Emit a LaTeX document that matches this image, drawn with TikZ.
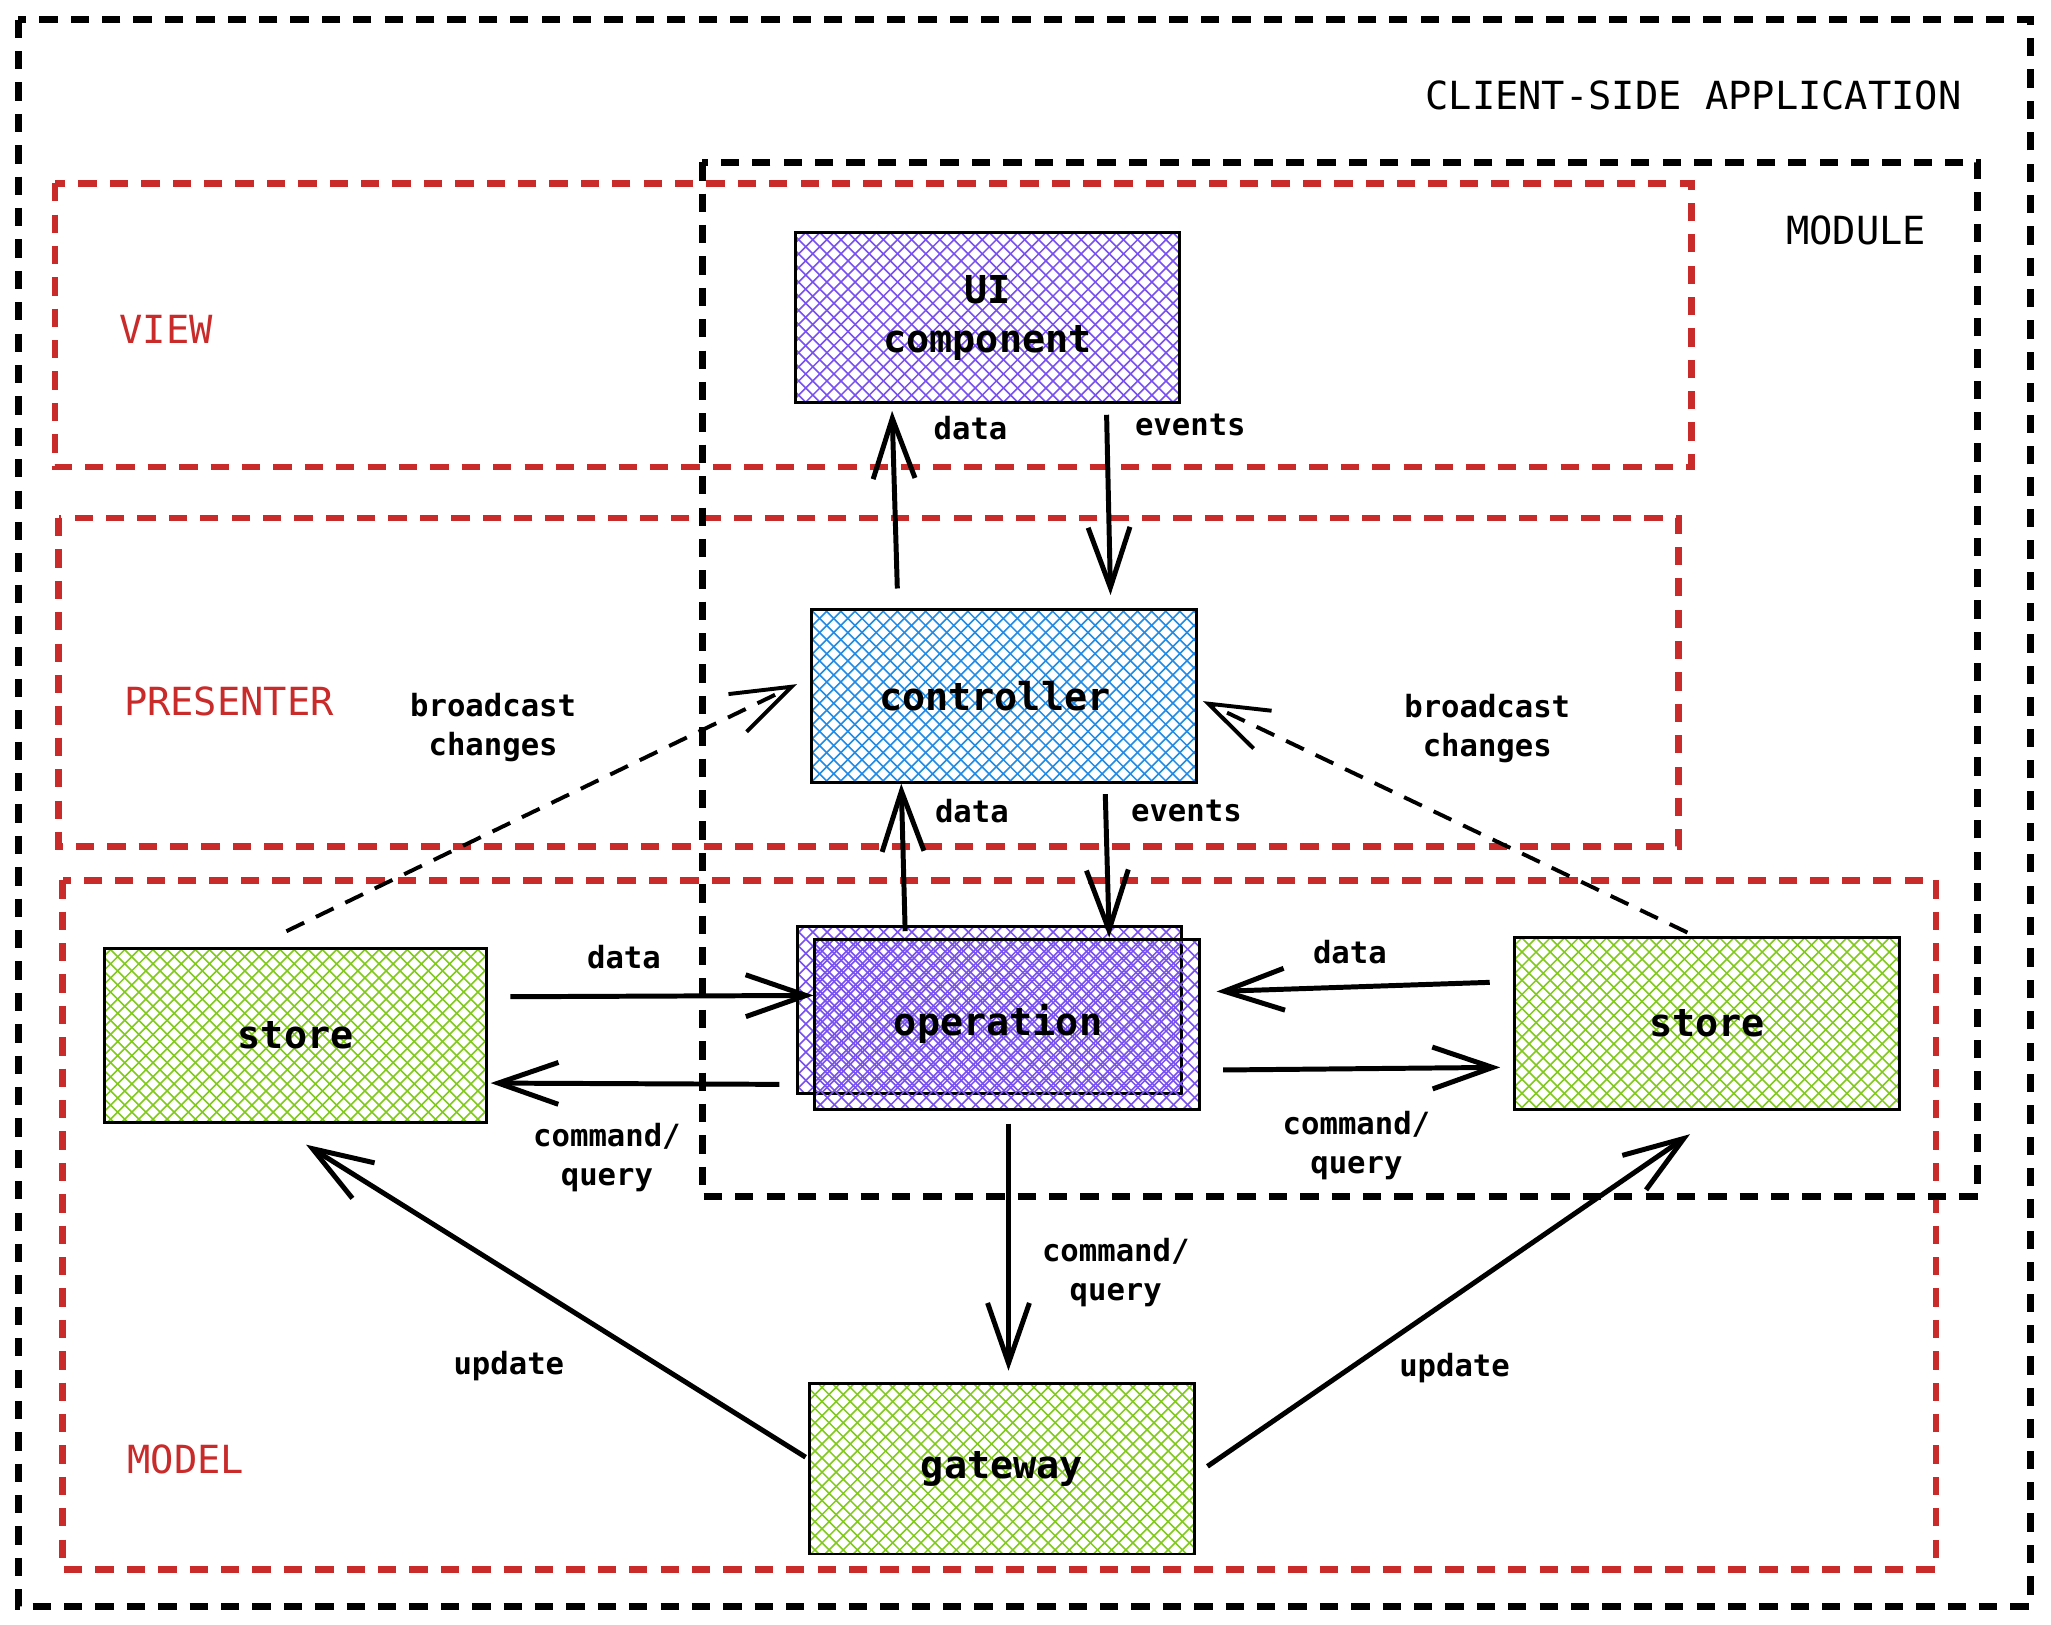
\documentclass[tikz,border=0pt]{standalone}
\usepackage{fontspec}
\newfontfamily\dmono{DejaVu Sans Mono}
\usetikzlibrary{arrows.meta,calc}
\definecolor{myred}{HTML}{C92A2A}
\definecolor{violetH}{HTML}{7950F2}
\definecolor{blueH}{HTML}{228BE6}
\definecolor{greenH}{HTML}{82C91E}
\newcommand\boxfont{\dmono\bfseries\fontsize{14.7}{19}\selectfont}
\newcommand\lblfont{\dmono\bfseries\fontsize{11.7}{15}\selectfont}
\newcommand\ttlfont{\dmono\fontsize{14.8}{18}\selectfont}
\tikzset{
  hatch/.style={path picture={
    \begin{scope}[shift={(path picture bounding box.center)}]
      \foreach \k in {-38,...,38}{
        \draw[#1, line width=0.6pt] ({\k*5.4pt-200pt},-200pt) -- ({\k*5.4pt+200pt},200pt);
        \draw[#1, line width=0.6pt] ({\k*5.4pt-200pt},200pt) -- ({\k*5.4pt+200pt},-200pt);
      }
    \end{scope}}},
  box/.style={draw=black, line width=1.1pt, minimum width=147pt, minimum height=65pt,
    inner sep=0pt, align=center, font=\boxfont},
  frame/.style={line width=2.6pt, dash pattern=on 7pt off 5pt},
  arr/.style={line width=1.9pt, -{Straight Barb[length=23pt,width=16pt]}},
  darr/.style={line width=1.5pt, dash pattern=on 7.5pt off 5pt, -{Straight Barb[length=23pt,width=16pt]}},
  lbl/.style={font=\lblfont, align=center, inner sep=0pt},
  ttl/.style={font=\ttlfont, inner sep=0pt},
}
\begin{document}
\begin{tikzpicture}[x=0.5pt,y=-0.5pt]
\useasboundingbox (0,0) rectangle (1568,1241.6);
\fill[white] (0,0) rectangle (1568,1241.6);

% frames
\draw[frame, black] (14,15) rectangle (1552,1228);
\draw[frame, myred] (42,140) rectangle (1293,357);
\draw[frame, myred] (45,396) rectangle (1283,647);
\draw[frame, myred] (48,673) rectangle (1480,1200);
\draw[frame, black] (537,124) rectangle (1512,915);

% frame titles
\node[ttl, anchor=east] (tapp) at (1500,73) {CLIENT-SIDE APPLICATION};
\node[ttl] (tmod) at (1419,176) {MODULE};
\node[ttl, myred] (tview) at (127,252) {VIEW};
\node[ttl, myred] (tpres) at (175,536) {PRESENTER};
\node[ttl, myred] (tmodel) at (142,1116) {MODEL};

% boxes
\node[box, hatch=violetH] (ui) at (755,243) {UI\\component};
\node[box, hatch=blueH, minimum height=66pt] (ctrl) at (767.5,532) {\hspace*{-7pt}controller};
\node[box, hatch=violetH, minimum height=64pt] (opb) at (756.5,772) {};
\node[box, hatch=violetH] (op) at (770,783) {\raisebox{2pt}{\hspace*{-7pt}operation}};
\node[box, hatch=greenH, minimum width=146pt, minimum height=66.5pt] (storeL) at (226,791.5) {store};
\node[box, hatch=greenH, minimum height=65.5pt] (storeR) at (1305,782.5) {store};
\node[box, hatch=greenH] (gw) at (766,1123) {\raisebox{3pt}{gateway}};

% connectors
\draw[arr] ([shift={(-81.5,-15)}]ctrl.north) -- ([shift={(-73,5)}]ui.south);
\draw[arr] ([shift={(91,8)}]ui.south) -- ([shift={(81.5,-10)}]ctrl.north);
\draw[arr] ([shift={(-78,-5)}]op.north) -- ([shift={(-78.5,0)}]ctrl.south);
\draw[arr] ([shift={(77.5,8)}]ctrl.south) -- ([shift={(78,0)}]op.north);
\draw[darr] ([shift={(-7,-12)}]storeL.north) -- ([shift={(-10,-9)}]ctrl.west);
\draw[darr] ([shift={(-15,-3)}]storeR.north) -- ([shift={(4,4)}]ctrl.east);
\draw[arr] ([shift={(17,-29.5)}]storeL.east) -- ([shift={(0,-22)}]op.west);
\draw[arr] ([shift={(-26,46)}]op.west) -- ([shift={(2,36.5)}]storeL.east);
\draw[arr] ([shift={(-18,-31.5)}]storeR.west) -- ([shift={(12,-25)}]op.east);
\draw[arr] ([shift={(17,35)}]op.east) -- ([shift={(-10,33.5)}]storeR.west);
\draw[arr] ([shift={(1,10)}]op.south) -- ([shift={(5,-9)}]gw.north);
\draw[arr] ([shift={(-2,-9)}]gw.west) -- ([shift={(8,16)}]storeL.south);
\draw[arr] ([shift={(9,-2)}]gw.east) -- ([shift={(-13,18)}]storeR.south);

% connector labels
\node[lbl] (l1) at (742,327) {data};
\node[lbl] (l2) at (910,325) {events};
\node[lbl] (l3) at (743,620) {data};
\node[lbl] (l4) at (907,620) {events};
\node[lbl] (l5) at (377,556) {broadcast\\changes};
\node[lbl] (l6) at (1137,557) {broadcast\\changes};
\node[lbl] (l7) at (477,732) {data};
\node[lbl] (l8) at (464,885) {command/\\query};
\node[lbl] (l9) at (1032,728) {data};
\node[lbl] (l10) at (1037,876) {command/\\query};
\node[lbl] (l11) at (853,973) {command/\\query};
\node[lbl] (l12) at (389,1044) {update};
\node[lbl] (l13) at (1112,1046) {update};
\end{tikzpicture}
\end{document}
